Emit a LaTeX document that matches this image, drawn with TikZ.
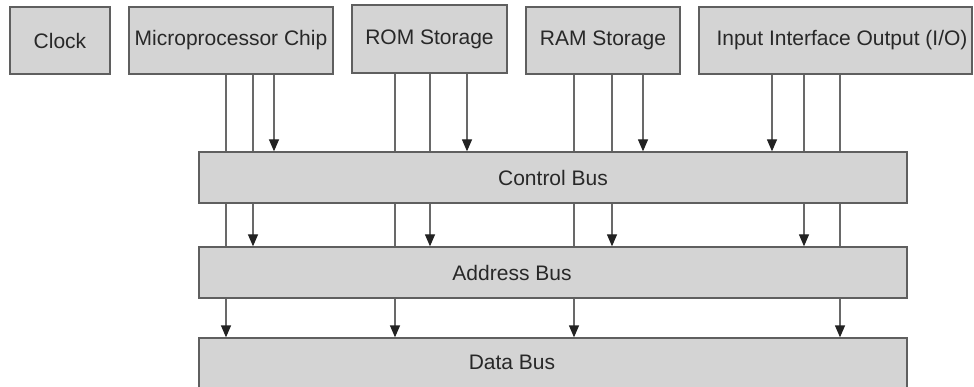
\documentclass[tikz,border=0pt]{standalone}
\usepackage{fontspec}
\setmainfont{Liberation Sans}
\usetikzlibrary{arrows.meta}
\definecolor{boxfill}{RGB}{212,212,212}
\definecolor{boxline}{RGB}{95,95,95}
\definecolor{wirec}{RGB}{105,105,105}
\definecolor{tipc}{RGB}{34,34,34}
\definecolor{ink}{RGB}{40,40,40}
\begin{document}
\begin{tikzpicture}[x=1pt,y=-1pt,
  box/.style={draw=boxline, fill=boxfill, line width=1.3pt, inner sep=0pt,
    font=\fontsize{21}{25}\selectfont, text=ink},
  wire/.style={draw=wirec, line width=1.3pt},
  feed/.style={wire, -{Triangle[length=12pt,width=10pt,fill=tipc,color=tipc]}}]
\useasboundingbox (0,0) rectangle (974,387);

% components
\node[box, minimum width=100pt, minimum height=67pt] (clock) at (60,40.5) {Clock};
\node[box, minimum width=204pt, minimum height=67pt] (cpu) at (231,40.5) {Microprocessor Chip};
\node[box, minimum width=155pt, minimum height=68pt] (rom) at (429.5,39) {ROM Storage};
\node[box, minimum width=154pt, minimum height=67pt] (ram) at (603,40.5) {RAM Storage};
\node[box, minimum width=273pt, minimum height=67pt] (io) at (835.5,40.5) {\hspace*{13pt}Input Interface Output (I/O)};

% buses (the data bus runs on past the lower edge)
\node[box, minimum width=708pt, minimum height=51pt] (ctrl) at (553,177.5) {Control Bus};
\node[box, minimum width=708pt, minimum height=51pt,
  label={[font=\fontsize{21}{25}\selectfont, text=ink, xshift=-41pt]center:Address Bus}] (addr) at (553,272.5) {};
\node[box, minimum width=708pt, minimum height=70pt,
  label={[font=\fontsize{21}{25}\selectfont, text=ink, xshift=-41pt, yshift=11pt]center:Data Bus}] (data) at (553,373) {};

% components to control bus
\draw[wire] (cpu.south -| 226,0) -- (ctrl.north -| 226,0);
\draw[wire] (cpu.south -| 253,0) -- (ctrl.north -| 253,0);
\draw[feed] (cpu.south -| 274,0) -- (ctrl.north -| 274,0);
\draw[wire] (rom.south -| 395,0) -- (ctrl.north -| 395,0);
\draw[wire] (rom.south -| 430,0) -- (ctrl.north -| 430,0);
\draw[feed] (rom.south -| 467,0) -- (ctrl.north -| 467,0);
\draw[wire] (ram.south -| 574,0) -- (ctrl.north -| 574,0);
\draw[wire] (ram.south -| 612,0) -- (ctrl.north -| 612,0);
\draw[feed] (ram.south -| 643,0) -- (ctrl.north -| 643,0);
\draw[feed] (io.south -| 772,0) -- (ctrl.north -| 772,0);
\draw[wire] (io.south -| 804,0) -- (ctrl.north -| 804,0);
\draw[wire] (io.south -| 840,0) -- (ctrl.north -| 840,0);

% control bus to address bus
\draw[wire] (ctrl.south -| 226,0) -- (addr.north -| 226,0);
\draw[feed] (ctrl.south -| 253,0) -- (addr.north -| 253,0);
\draw[wire] (ctrl.south -| 395,0) -- (addr.north -| 395,0);
\draw[feed] (ctrl.south -| 430,0) -- (addr.north -| 430,0);
\draw[wire] (ctrl.south -| 574,0) -- (addr.north -| 574,0);
\draw[feed] (ctrl.south -| 612,0) -- (addr.north -| 612,0);
\draw[feed] (ctrl.south -| 804,0) -- (addr.north -| 804,0);
\draw[wire] (ctrl.south -| 840,0) -- (addr.north -| 840,0);

% address bus to data bus
\draw[feed] (addr.south -| 226,0) -- (data.north -| 226,0);
\draw[feed] (addr.south -| 395,0) -- (data.north -| 395,0);
\draw[feed] (addr.south -| 574,0) -- (data.north -| 574,0);
\draw[feed] (addr.south -| 840,0) -- (data.north -| 840,0);
\end{tikzpicture}
\end{document}
